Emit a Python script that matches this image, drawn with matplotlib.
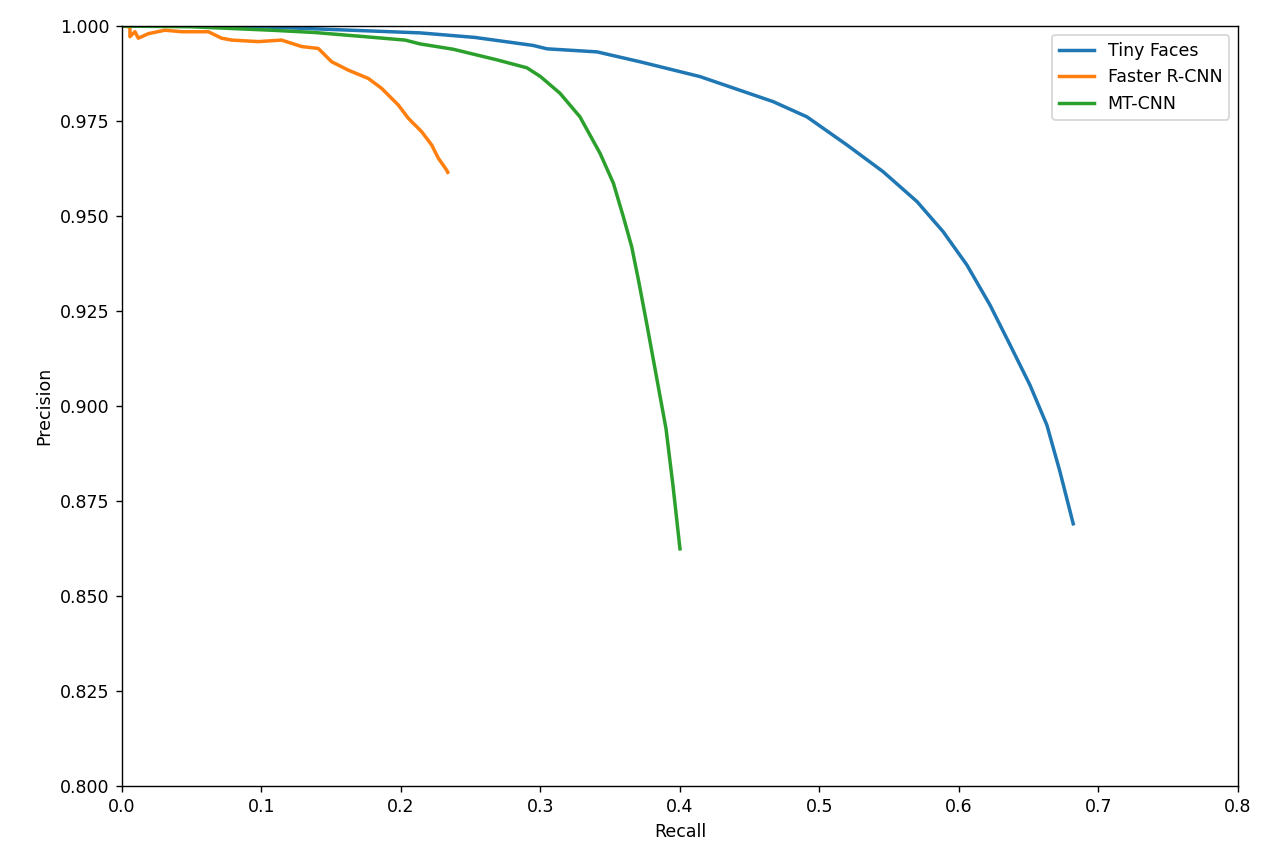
import numpy as np
import matplotlib
matplotlib.use("Agg")
import matplotlib.pyplot as plt

# PR curves
tiny_recall = [0.0, 0.05, 0.10, 0.15, 0.2136, 0.253, 0.2946, 0.3047, 0.3405, 0.3713,
               0.4143, 0.4668, 0.491, 0.5197, 0.5455, 0.5699, 0.5886, 0.6057, 0.6222,
               0.6366, 0.6509, 0.663, 0.6724, 0.6819]
tiny_precision = [1.0, 1.0, 0.9998, 0.9991, 0.9982, 0.9970, 0.9949, 0.9940, 0.9932, 0.9906,
                  0.9867, 0.9801, 0.9761, 0.9687, 0.9617, 0.9538, 0.9459, 0.9371, 0.9266,
                  0.9161, 0.9055, 0.8950, 0.8827, 0.8690]

frcnn_recall = [0.0, 0.0057, 0.0057, 0.0093, 0.0117, 0.019, 0.0308, 0.0428, 0.0619, 0.0714,
                0.0786, 0.0977, 0.1144, 0.1288, 0.1407, 0.1503, 0.1622, 0.1766, 0.1861,
                0.1981, 0.2053, 0.2148, 0.222, 0.2268, 0.2327, 0.2335]
frcnn_precision = [1.0, 0.9998, 0.9972, 0.9985, 0.9968, 0.9980, 0.9989, 0.9985, 0.9985, 0.9968,
                   0.9963, 0.9959, 0.9963, 0.9946, 0.9941, 0.9906, 0.9884, 0.9862, 0.9836,
                   0.9792, 0.9757, 0.9722, 0.9687, 0.9652, 0.9621, 0.9615]

mtcnn_recall = [0.0, 0.05, 0.107, 0.138, 0.174, 0.203, 0.2136, 0.2373, 0.2688, 0.2903,
                0.3, 0.314, 0.3283, 0.3427, 0.3523, 0.3594, 0.3654, 0.3702, 0.376,
                0.3835, 0.390, 0.395, 0.4]
mtcnn_precision = [1.0, 0.9998, 0.9989, 0.9983, 0.9972, 0.9963, 0.9953, 0.9939, 0.9911, 0.9890,
                   0.9867, 0.9823, 0.9761, 0.9665, 0.9586, 0.9498, 0.9419, 0.9332, 0.9220,
                   0.9070, 0.8940, 0.8790, 0.8624]

fig = plt.figure(figsize=(1276 / 125, 862 / 125), dpi=125)
ax = fig.add_axes([0.0956, 0.0882, 0.8746, 0.8816])

ax.plot(tiny_recall, tiny_precision, label="Tiny Faces", lw=2)
ax.plot(frcnn_recall, frcnn_precision, label="Faster R-CNN", lw=2)
ax.plot(mtcnn_recall, mtcnn_precision, label="MT-CNN", lw=2)

ax.set_xlim(0, 0.8)
ax.set_ylim(0.8, 1.0)
ax.set_xticks(np.arange(0, 0.81, 0.1))
ax.set_yticks(np.arange(0.8, 1.0001, 0.025))
ax.set_xticklabels(["0.0", "0.1", "0.2", "0.3", "0.4", "0.5", "0.6", "0.7", "0.8"])
ax.set_xlabel("Recall")
ax.set_ylabel("Precision")
ax.legend(loc="upper right")

fig.savefig("out.png", dpi=125)
